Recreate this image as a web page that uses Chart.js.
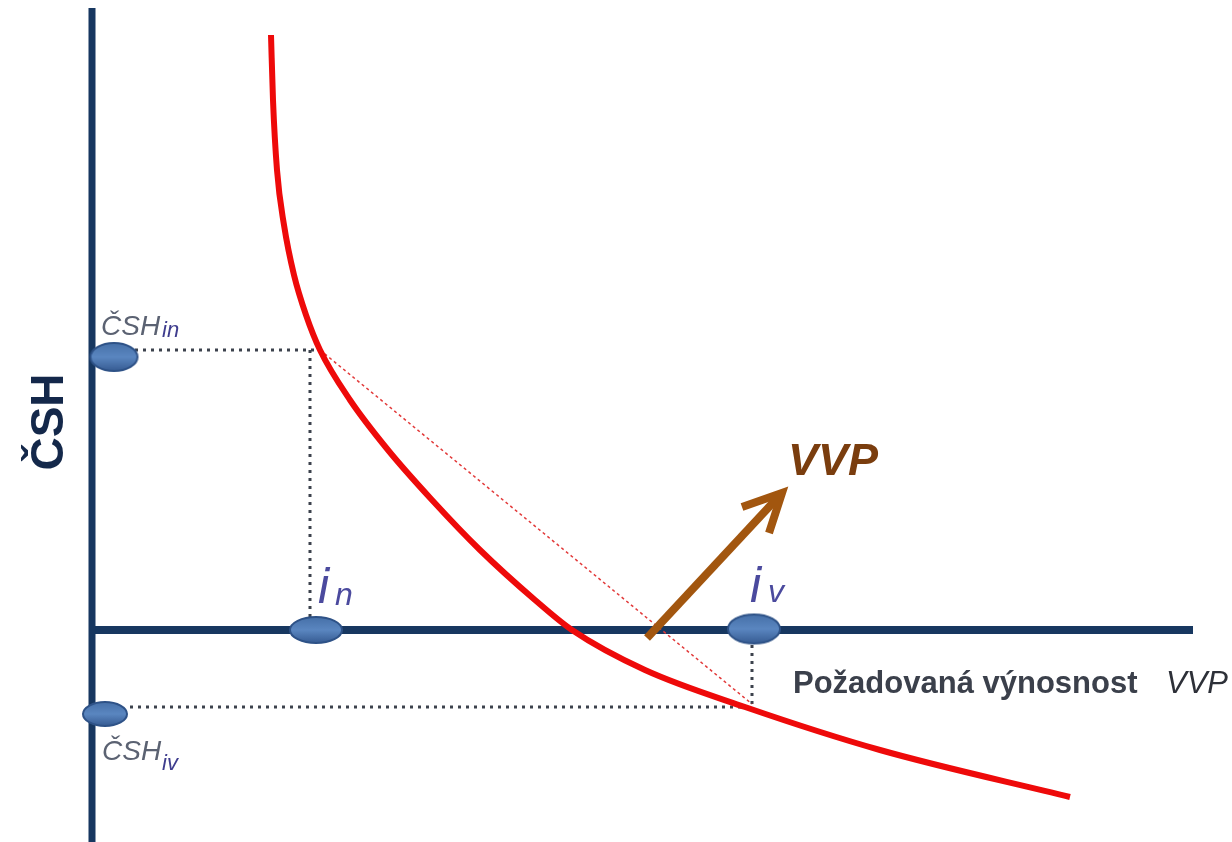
<!DOCTYPE html>
<html lang="cs">
<head>
<meta charset="utf-8">
<title>ČSH a požadovaná výnosnost</title>
<script src="https://cdn.jsdelivr.net/npm/chart.js@4/dist/chart.umd.min.js"></script>
<style>
  html, body { margin: 0; padding: 0; background: #fff; }
  #wrap { width: 1232px; height: 842px; }
</style>
</head>
<body>
<div id="wrap"><canvas id="chart" width="1232" height="842"></canvas></div>
<script>
// jednotky grafu: počátek v průsečíku os
const curveX = [179, 181, 185, 192, 202, 214, 228, 258, 296, 340, 388, 443, 480, 553, 653, 788, 978];
const curveY = [595, 530, 460, 405, 355, 315, 280, 230, 180, 130, 80, 30, 0, -40, -77, -120, -167];

// spojnice bodů na křivce (tenká červená)
const chordX = [228, 660];
const chordY = [280, -74];

// tečkované vodicí čáry
const guideX = [[43, 228], [218, 218], [38, 653], [660, 660]];
const guideY = [[280, 280], [280, 10], [-77, -77], [-15, -75]];

// osy
const axisVX = [0, 0];
const axisVY = [622, -212];
const axisHX = [0, 1101];
const axisHY = [0, 0];

// body na osách (ČSHin, ČSHiv, in, iv)
const markX = [22, 13, 224, 662];
const markY = [273, -84, 0, 1];

// šipka VVP
const arrowX = [555, 690];
const arrowY = [-8, 137];
const headX = [650, 690, 677];
const headY = [123, 137, 97];

function pts(xs, ys) {
    return xs.map((x, i) => ({ x: x, y: ys[i] }));
}

function makeEllipse(w, h) {
    const c = document.createElement('canvas');
    c.width = w + 4;
    c.height = h + 4;
    const g = c.getContext('2d');
    const grad = g.createLinearGradient(0, 2, 0, h + 2);
    grad.addColorStop(0, '#4670a8');
    grad.addColorStop(0.5, '#5a86c0');
    grad.addColorStop(1, '#365b92');
    g.beginPath();
    g.ellipse(w / 2 + 2, h / 2 + 2, w / 2, h / 2, 0, 0, Math.PI * 2);
    g.fillStyle = grad;
    g.fill();
    g.lineWidth = 2;
    g.strokeStyle = '#2e5287';
    g.stroke();
    return c;
}

const markStyles = [makeEllipse(47, 28), makeEllipse(44, 24), makeEllipse(52, 26), makeEllipse(52, 29)];

// popisky [text, x, y, font, barva]
const labels = [
    ['ČSH', 9, 295, 'italic 28px "Liberation Sans"', '#5b6272'],
    ['in', 70, 293, 'italic 22px "Liberation Sans"', '#3f3d8e'],
    ['ČSH', 10, -130, 'italic 28px "Liberation Sans"', '#5b6272'],
    ['iv', 70, -140, 'italic 22px "Liberation Sans"', '#3f3d8e'],
    ['i', 226, 27, 'italic 50px "Liberation Sans"', '#4b4a9e'],
    ['n', 243, 25, 'italic 32px "Liberation Sans"', '#4b4a9e'],
    ['i', 658, 28, 'italic 50px "Liberation Sans"', '#4b4a9e'],
    ['v', 676, 28, 'italic 32px "Liberation Sans"', '#4b4a9e'],
    ['VVP', 696, 155, 'italic bold 45px "Liberation Sans"', '#7a3d0e'],
    ['Požadovaná výnosnost', 701, -63, 'bold 31px "Liberation Sans"', '#3b404b'],
    ['VVP', 1074, -63, 'italic 31px "Liberation Sans"', '#2d3038']
];

const textPlugin = {
    id: 'texts',
    afterDraw(chart) {
        const ctx = chart.ctx;
        const sx = chart.scales.x;
        const sy = chart.scales.y;
        ctx.save();
        ctx.textBaseline = 'alphabetic';
        ctx.textAlign = 'left';
        labels.forEach(l => {
            ctx.font = l[3];
            ctx.fillStyle = l[4];
            ctx.fillText(l[0], sx.getPixelForValue(l[1]), sy.getPixelForValue(l[2]));
        });
        // název svislé osy
        ctx.translate(sx.getPixelForValue(-29), sy.getPixelForValue(208));
        ctx.rotate(-Math.PI / 2);
        ctx.textAlign = 'center';
        ctx.font = 'bold 46px "Liberation Sans"';
        ctx.fillStyle = '#14284a';
        ctx.fillText('ČSH', 0, 0);
        ctx.restore();
    }
};

const lineDefaults = { showLine: true, pointRadius: 0, fill: false, tension: 0 };

const datasets = [
    Object.assign({}, lineDefaults, {
        data: pts(markX, markY),
        showLine: false,
        pointStyle: markStyles,
        pointRadius: 14,
        order: 0
    }),
    Object.assign({}, lineDefaults, {
        data: pts(arrowX, arrowY),
        borderColor: '#a2560f',
        borderWidth: 8,
        order: 1
    }),
    Object.assign({}, lineDefaults, {
        data: pts(headX, headY),
        borderColor: '#a2560f',
        borderWidth: 8,
        borderJoinStyle: 'miter',
        order: 1
    }),
    Object.assign({}, lineDefaults, {
        data: pts(curveX, curveY),
        borderColor: '#ee0a0a',
        borderWidth: 6,
        cubicInterpolationMode: 'monotone',
        borderCapStyle: 'butt',
        order: 2
    }),
    Object.assign({}, lineDefaults, {
        data: pts(chordX, chordY),
        borderColor: '#e23a3a',
        borderWidth: 1.5,
        borderDash: [3, 3],
        order: 3
    })
];

guideX.forEach((gx, i) => {
    datasets.push(Object.assign({}, lineDefaults, {
        data: pts(gx, guideY[i]),
        borderColor: '#3c424d',
        borderWidth: 3,
        borderDash: [3, 5],
        order: 4
    }));
});

datasets.push(Object.assign({}, lineDefaults, {
    data: pts(axisVX, axisVY),
    borderColor: '#173760',
    borderWidth: 7,
    order: 5
}));
datasets.push(Object.assign({}, lineDefaults, {
    data: pts(axisHX, axisHY),
    borderColor: '#173760',
    borderWidth: 8,
    order: 5
}));

new Chart(document.getElementById('chart').getContext('2d'), {
    type: 'scatter',
    data: { datasets: datasets },
    options: {
        responsive: false,
        animation: false,
        layout: { padding: 0, autoPadding: false },
        plugins: {
            legend: { display: false },
            tooltip: { enabled: false }
        },
        scales: {
            x: { type: 'linear', min: -92, max: 1140, display: false },
            y: { type: 'linear', min: -212, max: 630, display: false }
        }
    },
    plugins: [textPlugin]
});
</script>
</body>
</html>
